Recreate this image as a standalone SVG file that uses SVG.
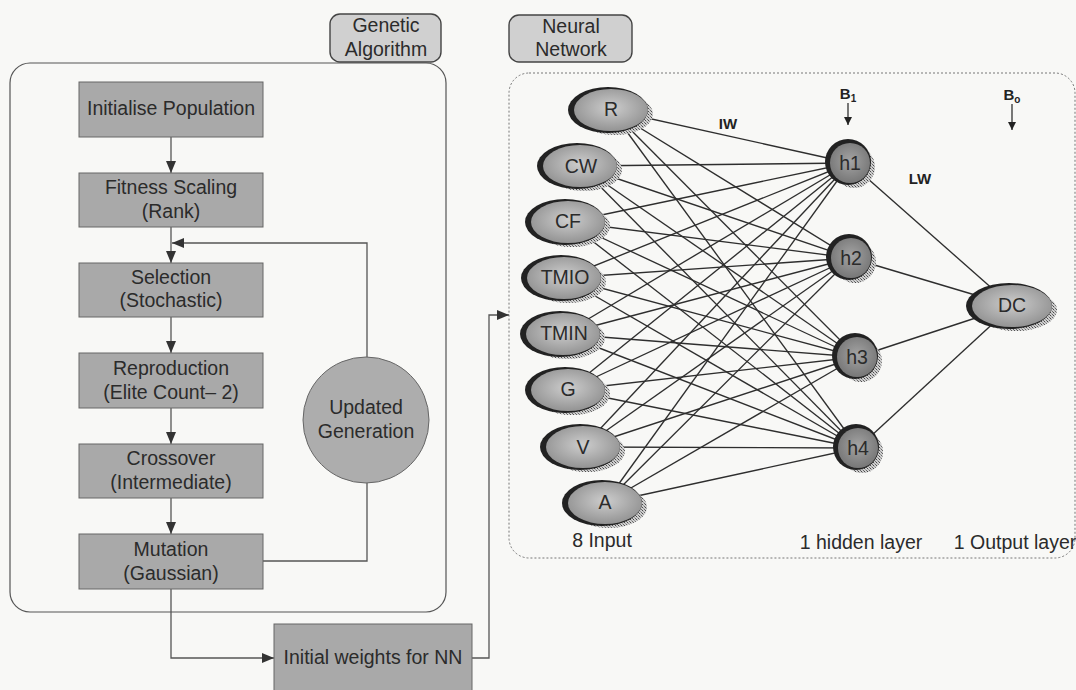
<svg xmlns="http://www.w3.org/2000/svg" width="1076" height="690" viewBox="0 0 1076 690">
<defs>
<pattern id="hatch" width="3" height="3" patternUnits="userSpaceOnUse">
<rect width="3" height="3" fill="#cfcfcf"/>
<rect width="1" height="1" fill="#4a4a4a"/>
<rect x="2" y="2" width="1" height="1" fill="#6a6a6a"/>
<rect x="1" y="1" width="1" height="1" fill="#9a9a9a"/>
</pattern>
<radialGradient id="gIn" cx="0.5" cy="0.45" r="0.6">
<stop offset="0" stop-color="#cdcdcd"/>
<stop offset="1" stop-color="#8e8e8e"/>
</radialGradient>
<radialGradient id="gHid" cx="0.5" cy="0.45" r="0.6">
<stop offset="0" stop-color="#a4a4a4"/>
<stop offset="1" stop-color="#737373"/>
</radialGradient>
<marker id="ah" viewBox="0 0 12 10" refX="12" refY="5" markerWidth="12" markerHeight="10" markerUnits="userSpaceOnUse" orient="auto">
<path d="M0,0 L12,5 L0,10 Z" fill="#333"/>
</marker>
<marker id="ahs" viewBox="0 0 8 8" refX="8" refY="4" markerWidth="8" markerHeight="8" markerUnits="userSpaceOnUse" orient="auto">
<path d="M0,0 L8,4 L0,8 Z" fill="#222"/>
</marker>
</defs>
<style>
text{font-family:"Liberation Sans",Arial,sans-serif;fill:#2b2b2b;text-anchor:middle}
.t{font-size:19.5px}
.b{font-size:15px;font-weight:bold;fill:#222}
.box{fill:#a9a9a9;stroke:#666;stroke-width:1}
.lab{fill:#d0d0d0;stroke:#444;stroke-width:1.4}
.flow{fill:none;stroke:#555;stroke-width:1.3}
.w{stroke:#2e2e2e;stroke-width:1.35}
.sh{fill:url(#hatch)}
.dk{fill:#222}
.in{fill:url(#gIn)}
.hd{fill:url(#gHid)}
</style>
<rect width="1076" height="690" fill="#f8f8f6"/>

<!-- containers -->
<g id="ga-container">
<rect x="10" y="63" width="436" height="549" rx="20" fill="none" stroke="#555" stroke-width="1.2"/>
</g>
<g id="nn-container">
<rect x="509" y="73" width="566" height="485" rx="20" fill="none" stroke="#777" stroke-width="1" stroke-dasharray="2 2"/>
</g>
<g id="label-ga">
<rect class="lab" x="330" y="14" width="111" height="48" rx="10"/>
<text class="t" x="386" y="32">Genetic</text>
<text class="t" x="386" y="56">Algorithm</text>
</g>
<g id="label-nn">
<rect class="lab" x="509" y="15" width="123" height="47" rx="10"/>
<text class="t" x="571" y="33">Neural</text>
<text class="t" x="571" y="56">Network</text>
</g>

<!-- GA flow connectors -->
<g id="ga-connectors">
<line class="flow" x1="171" y1="137" x2="171" y2="173" marker-end="url(#ah)"/>
<line class="flow" x1="171" y1="227" x2="171" y2="263" marker-end="url(#ah)"/>
<line class="flow" x1="171" y1="317" x2="171" y2="353" marker-end="url(#ah)"/>
<line class="flow" x1="171" y1="408" x2="171" y2="444" marker-end="url(#ah)"/>
<line class="flow" x1="171" y1="498" x2="171" y2="534" marker-end="url(#ah)"/>
<polyline class="flow" points="263,561 367,561 367,483"/>
<polyline class="flow" points="367,357 367,243 172,243" marker-end="url(#ah)"/>
<polyline class="flow" points="171,589 171,658 274,658" marker-end="url(#ah)"/>
<polyline class="flow" points="472,658 489,658 489,315 509,315" marker-end="url(#ah)"/>
</g>

<!-- GA nodes -->
<g id="init-pop"><rect class="box" x="79" y="82" width="184" height="55"/><text class="t" x="171" y="115">Initialise Population</text></g>
<g id="fitness"><rect class="box" x="79" y="173" width="184" height="54"/><text class="t" x="171" y="194">Fitness Scaling</text><text class="t" x="171" y="218">(Rank)</text></g>
<g id="selection"><rect class="box" x="79" y="263" width="184" height="54"/><text class="t" x="171" y="284">Selection</text><text class="t" x="171" y="307">(Stochastic)</text></g>
<g id="reproduction"><rect class="box" x="79" y="353" width="184" height="55"/><text class="t" x="171" y="375">Reproduction</text><text class="t" x="171" y="399">(Elite Count– 2)</text></g>
<g id="crossover"><rect class="box" x="79" y="444" width="184" height="54"/><text class="t" x="171" y="465">Crossover</text><text class="t" x="171" y="489">(Intermediate)</text></g>
<g id="mutation"><rect class="box" x="79" y="534" width="184" height="55"/><text class="t" x="171" y="556">Mutation</text><text class="t" x="171" y="580">(Gaussian)</text></g>
<g id="updated-gen"><circle cx="366" cy="420" r="63" fill="#adadad" stroke="#666" stroke-width="1"/><text class="t" x="366" y="414">Updated</text><text class="t" x="366" y="438">Generation</text></g>
<g id="init-weights"><rect class="box" x="274" y="624" width="198" height="80"/><text class="t" x="373" y="664">Initial weights for NN</text></g>

<!-- NN connectors -->
<g id="nn-connectors">
<line class="w" x1="611" y1="110" x2="850" y2="163"/><line class="w" x1="611" y1="110" x2="851" y2="258"/><line class="w" x1="611" y1="110" x2="857" y2="357"/><line class="w" x1="611" y1="110" x2="858" y2="448"/>
<line class="w" x1="580" y1="166" x2="850" y2="163"/><line class="w" x1="580" y1="166" x2="851" y2="258"/><line class="w" x1="580" y1="166" x2="857" y2="357"/><line class="w" x1="580" y1="166" x2="858" y2="448"/>
<line class="w" x1="568" y1="222" x2="850" y2="163"/><line class="w" x1="568" y1="222" x2="851" y2="258"/><line class="w" x1="568" y1="222" x2="857" y2="357"/><line class="w" x1="568" y1="222" x2="858" y2="448"/>
<line class="w" x1="564" y1="278" x2="850" y2="163"/><line class="w" x1="564" y1="278" x2="851" y2="258"/><line class="w" x1="564" y1="278" x2="857" y2="357"/><line class="w" x1="564" y1="278" x2="858" y2="448"/>
<line class="w" x1="563" y1="334" x2="850" y2="163"/><line class="w" x1="563" y1="334" x2="851" y2="258"/><line class="w" x1="563" y1="334" x2="857" y2="357"/><line class="w" x1="563" y1="334" x2="858" y2="448"/>
<line class="w" x1="568" y1="390" x2="850" y2="163"/><line class="w" x1="568" y1="390" x2="851" y2="258"/><line class="w" x1="568" y1="390" x2="857" y2="357"/><line class="w" x1="568" y1="390" x2="858" y2="448"/>
<line class="w" x1="583" y1="447" x2="850" y2="163"/><line class="w" x1="583" y1="447" x2="851" y2="258"/><line class="w" x1="583" y1="447" x2="857" y2="357"/><line class="w" x1="583" y1="447" x2="858" y2="448"/>
<line class="w" x1="605" y1="503" x2="850" y2="163"/><line class="w" x1="605" y1="503" x2="851" y2="258"/><line class="w" x1="605" y1="503" x2="857" y2="357"/><line class="w" x1="605" y1="503" x2="858" y2="448"/>
<line class="w" x1="850" y1="163" x2="1012" y2="306"/><line class="w" x1="851" y1="258" x2="1012" y2="306"/><line class="w" x1="857" y1="357" x2="1012" y2="306"/><line class="w" x1="858" y1="448" x2="1012" y2="306"/>
<line x1="848" y1="103" x2="848" y2="125" stroke="#222" stroke-width="1.2" marker-end="url(#ahs)"/>
<line x1="1012" y1="104" x2="1012" y2="130" stroke="#222" stroke-width="1.2" marker-end="url(#ahs)"/>
</g>

<!-- NN input nodes -->
<g id="n-R"><ellipse class="sh" cx="615" cy="114" rx="38" ry="21"/><ellipse class="dk" cx="608" cy="110" rx="40" ry="23"/><ellipse class="in" cx="611" cy="110" rx="37" ry="21"/><text class="t" x="611" y="116">R</text></g>
<g id="n-CW"><ellipse class="sh" cx="584" cy="170" rx="38" ry="21"/><ellipse class="dk" cx="577" cy="166" rx="40" ry="23"/><ellipse class="in" cx="580" cy="166" rx="37" ry="21"/><text class="t" x="581" y="173">CW</text></g>
<g id="n-CF"><ellipse class="sh" cx="572" cy="226" rx="38" ry="21"/><ellipse class="dk" cx="565" cy="222" rx="40" ry="23"/><ellipse class="in" cx="568" cy="222" rx="37" ry="21"/><text class="t" x="568" y="228">CF</text></g>
<g id="n-TMIO"><ellipse class="sh" cx="568" cy="282" rx="38" ry="21"/><ellipse class="dk" cx="561" cy="278" rx="40" ry="23"/><ellipse class="in" cx="564" cy="278" rx="37" ry="21"/><text class="t" x="565" y="284">TMIO</text></g>
<g id="n-TMIN"><ellipse class="sh" cx="567" cy="338" rx="38" ry="21"/><ellipse class="dk" cx="560" cy="334" rx="40" ry="23"/><ellipse class="in" cx="563" cy="334" rx="37" ry="21"/><text class="t" x="564" y="340">TMIN</text></g>
<g id="n-G"><ellipse class="sh" cx="572" cy="394" rx="38" ry="21"/><ellipse class="dk" cx="565" cy="390" rx="40" ry="23"/><ellipse class="in" cx="568" cy="390" rx="37" ry="21"/><text class="t" x="568" y="396">G</text></g>
<g id="n-V"><ellipse class="sh" cx="587" cy="451" rx="38" ry="21"/><ellipse class="dk" cx="580" cy="447" rx="40" ry="23"/><ellipse class="in" cx="583" cy="447" rx="37" ry="21"/><text class="t" x="583" y="454">V</text></g>
<g id="n-A"><ellipse class="sh" cx="609" cy="507" rx="38" ry="21"/><ellipse class="dk" cx="602" cy="503" rx="40" ry="23"/><ellipse class="in" cx="605" cy="503" rx="37" ry="21"/><text class="t" x="605" y="509">A</text></g>

<!-- hidden nodes -->
<g id="n-h1"><circle class="sh" cx="854" cy="167" r="21"/><circle class="dk" cx="848" cy="162" r="23"/><circle class="hd" cx="850" cy="163" r="20"/><text class="t" x="850" y="170">h1</text></g>
<g id="n-h2"><circle class="sh" cx="855" cy="262" r="21"/><circle class="dk" cx="849" cy="257" r="23"/><circle class="hd" cx="851" cy="258" r="20"/><text class="t" x="851" y="265">h2</text></g>
<g id="n-h3"><circle class="sh" cx="861" cy="361" r="21"/><circle class="dk" cx="855" cy="356" r="23"/><circle class="hd" cx="857" cy="357" r="20"/><text class="t" x="857" y="364">h3</text></g>
<g id="n-h4"><circle class="sh" cx="862" cy="452" r="21"/><circle class="dk" cx="856" cy="447" r="23"/><circle class="hd" cx="858" cy="448" r="20"/><text class="t" x="858" y="455">h4</text></g>

<!-- output node -->
<g id="n-DC"><ellipse class="sh" cx="1016" cy="310" rx="41" ry="21"/><ellipse class="dk" cx="1009" cy="306" rx="43" ry="23"/><ellipse class="in" cx="1012" cy="306" rx="40" ry="21"/><text class="t" x="1012" y="312">DC</text></g>

<!-- NN labels -->
<g id="nn-labels">
<text class="b" x="728" y="129">IW</text>
<text class="b" x="920" y="184">LW</text>
<text class="b" x="848" y="99">B<tspan font-size="10" dy="3">1</tspan></text>
<text class="b" x="1012" y="100">B<tspan font-size="10" dy="3">o</tspan></text>
<text class="t" x="602" y="547">8 Input</text>
<text class="t" x="861" y="549">1 hidden layer</text>
<text class="t" x="1015" y="549">1 Output layer</text>
</g>
</svg>
